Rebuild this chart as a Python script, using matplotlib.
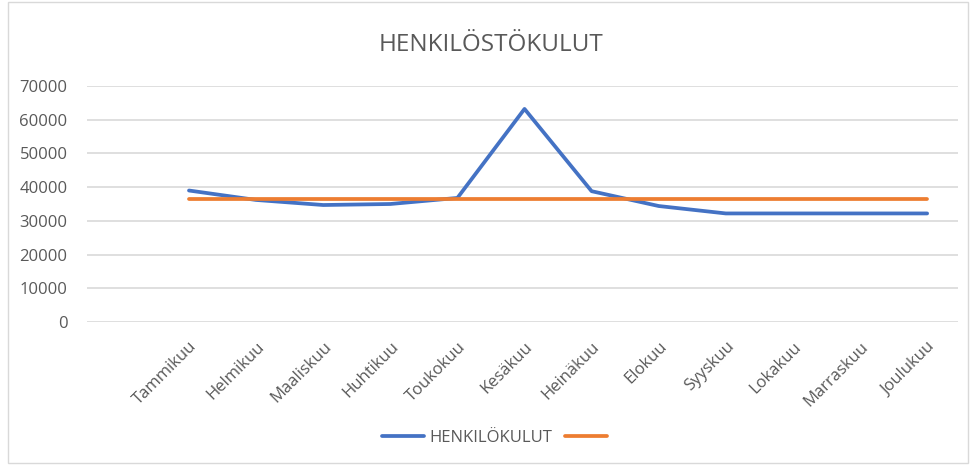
import matplotlib.pyplot as plt
from matplotlib.patches import Rectangle

# Kuukaudet ja kulut
kuukaudet = ["Tammikuu", "Helmikuu", "Maaliskuu", "Huhtikuu", "Toukokuu", "Kesäkuu",
             "Heinäkuu", "Elokuu", "Syyskuu", "Lokakuu", "Marraskuu", "Joulukuu"]
henkilokulut = [39000, 36200, 34700, 35000, 36800, 63200,
                38800, 34400, 32200, 32200, 32200, 32200]
tavoite = [36400] * 12
y_ticks = [0, 10000, 20000, 30000, 40000, 50000, 60000, 70000]

plt.rcParams['font.family'] = ['Open Sans', 'DejaVu Sans']
text_color = '#595959'

fig = plt.figure(figsize=(9.73, 4.65), dpi=100)
ax = fig.add_axes([87 / 973, 1 - 322 / 465, (958 - 87) / 973, (322 - 86) / 465])

x = list(range(len(kuukaudet)))
l1, = ax.plot(x, henkilokulut, color='#4472C4', linewidth=2.7, solid_capstyle='round')
l2, = ax.plot(x, tavoite, color='#ED7D31', linewidth=2.7, solid_capstyle='round')

ax.set_xlim(-1.52, 11.46)
ax.set_ylim(0, 70000)
ax.set_yticks(y_ticks)
ax.set_yticklabels([str(v) for v in y_ticks], color=text_color, fontsize=12)
ax.set_xticks(x)
ax.set_xticklabels(kuukaudet, rotation=45, ha='right', rotation_mode='anchor',
                   color=text_color, fontsize=12)
ax.tick_params(length=0)
ax.tick_params(axis='y', pad=14)
ax.tick_params(axis='x', pad=12)
ax.grid(axis='y', color='#d9d9d9', linewidth=1.2)
ax.set_axisbelow(True)
for s in ax.spines.values():
    s.set_visible(False)

fig.text(0.505, 1 - 45 / 465, "HENKILÖSTÖKULUT", ha='center', va='center',
         fontsize=17.5, color=text_color)

fig.legend([l1, l2], ["HENKILÖKULUT", ""], loc='center', bbox_to_anchor=(0.511, 1 - 438 / 465),
           ncol=2, frameon=False, fontsize=12, labelcolor=text_color,
           handlelength=2.5, columnspacing=0.8, handletextpad=0.3)

# Kehys kaavion ympärillä
fig.patches.append(Rectangle((8 / 973, 0.005), 960 / 973, 0.99, transform=fig.transFigure,
                             fill=False, edgecolor='#d9d9d9', linewidth=1))

fig.savefig("out.png", dpi=100)
